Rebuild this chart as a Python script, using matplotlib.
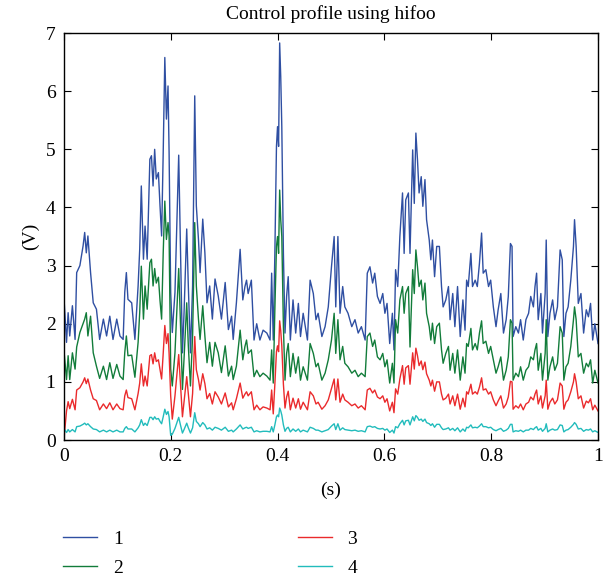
import matplotlib
matplotlib.use("Agg")
import matplotlib.pyplot as plt

plt.rcParams['font.family'] = ['Liberation Serif', 'DejaVu Serif']

# time (s)
t = [0.000, 0.005, 0.008, 0.011, 0.016, 0.021, 0.024, 0.030, 0.036, 0.039,
     0.042, 0.045, 0.050, 0.055, 0.061, 0.067, 0.074, 0.080, 0.086, 0.092,
     0.099, 0.105, 0.111, 0.114, 0.117, 0.120, 0.127, 0.133, 0.139, 0.142,
     0.145, 0.149, 0.152, 0.156, 0.161, 0.164, 0.167, 0.170, 0.173, 0.177,
     0.180, 0.183, 0.186, 0.189, 0.192, 0.195, 0.197, 0.200, 0.203, 0.208,
     0.212, 0.215, 0.218, 0.222, 0.225, 0.230, 0.233, 0.237, 0.241, 0.245,
     0.248, 0.252, 0.255, 0.260, 0.264, 0.268, 0.273, 0.278, 0.283, 0.289,
     0.295, 0.302, 0.308, 0.314, 0.317, 0.323, 0.330,
     0.335, 0.339, 0.342, 0.345, 0.351, 0.356, 0.361, 0.367, 0.373, 0.380,
     0.386, 0.389, 0.392, 0.395, 0.398, 0.400, 0.402, 0.404, 0.406, 0.408,
     0.411, 0.414, 0.417, 0.420, 0.424, 0.429, 0.434, 0.439, 0.443, 0.448,
     0.456, 0.461, 0.467, 0.472, 0.476, 0.483, 0.489, 0.495, 0.501, 0.506,
     0.509, 0.513, 0.517, 0.522, 0.526, 0.532, 0.539, 0.545, 0.551, 0.557,
     0.564, 0.568, 0.573, 0.578, 0.582, 0.587, 0.592, 0.597, 0.601, 0.605,
     0.610, 0.615, 0.618, 0.621, 0.625, 0.629, 0.634, 0.637, 0.640, 0.645,
     0.648, 0.653, 0.656, 0.659, 0.662, 0.665, 0.669, 0.672, 0.676, 0.679,
     0.684, 0.687, 0.690, 0.694, 0.698, 0.703, 0.707, 0.710, 0.715, 0.720,
     0.723, 0.728, 0.732, 0.737, 0.742, 0.747, 0.751, 0.754, 0.757, 0.762,
     0.765, 0.770, 0.774, 0.778, 0.782, 0.785, 0.790, 0.795, 0.799, 0.804,
     0.809, 0.813, 0.818, 0.823, 0.828, 0.832, 0.836, 0.839, 0.841, 0.846,
     0.851, 0.855, 0.860, 0.865, 0.870, 0.874, 0.879, 0.882, 0.885, 0.888,
     0.893, 0.896, 0.901, 0.903, 0.906, 0.910, 0.915, 0.919, 0.924, 0.929,
     0.933, 0.936, 0.940, 0.944, 0.949, 0.954, 0.956, 0.959, 0.963, 0.968,
     0.973, 0.978, 0.982, 0.986, 0.990, 0.994, 1.000]

u1 = [2.48, 1.68, 2.19, 1.79, 2.31, 1.73, 2.88, 3.00, 3.34, 3.57,
      3.22, 3.51, 2.88, 2.36, 2.25, 1.73, 2.08, 1.79, 2.13, 1.73,
      2.08, 1.79, 1.73, 2.54, 2.88, 2.42, 2.36, 1.73, 2.65, 3.28,
      4.37, 3.11, 3.68, 3.11, 4.83, 4.89, 4.37, 5.00, 4.49, 4.60,
      4.03, 3.51, 4.95, 6.58, 5.52, 6.09, 4.95, 2.54, 1.85, 2.54,
      3.91, 4.90, 3.40, 1.50, 2.19, 3.63, 2.65, 1.50, 2.65, 5.92,
      4.03, 3.45, 2.88, 3.80, 3.22, 2.36, 2.65, 2.08, 2.77, 2.48,
      2.08, 2.71, 1.90, 2.13, 1.73, 2.36, 3.28,
      2.41, 2.64, 2.75, 2.52, 2.75, 1.72, 2.00, 1.72, 1.89, 1.84,
      1.72, 2.87, 1.72, 3.21, 5.05, 5.39, 5.05, 6.83, 6.25, 5.39,
      3.21, 1.84, 2.47, 2.81, 1.72, 2.41, 1.84, 2.35, 1.78, 2.18,
      1.72, 2.75, 2.52, 2.07, 2.18, 1.78, 1.95, 2.29, 2.98, 3.50,
      2.29, 3.50, 2.18, 2.64, 2.29, 2.18, 1.95, 2.07, 1.84, 1.95,
      1.72, 2.87, 2.98, 2.70, 2.87, 2.47, 2.35, 2.52, 2.18, 2.35,
      1.66, 2.18, 1.55, 2.93, 2.64, 3.50, 4.25, 3.21, 4.13, 4.25,
      3.21, 4.99, 4.07, 5.28, 4.82, 4.25, 4.53, 4.02, 4.48, 3.79,
      3.44, 3.10, 3.44, 2.81, 3.33, 3.33, 2.64, 2.29, 2.41, 2.64,
      2.07, 2.52, 1.95, 2.64, 1.78, 2.41, 1.89, 2.75, 2.64, 3.21,
      2.64, 2.75, 2.64, 3.04, 3.56, 2.87, 2.93, 2.64, 2.75, 2.29,
      1.95, 2.24, 2.52, 1.84, 2.07, 2.47, 3.38, 3.33, 1.78, 1.95,
      1.84, 2.07, 1.72, 2.07, 2.18, 2.47, 2.29, 2.64, 2.87, 2.07,
      2.52, 1.84, 2.52, 3.44, 1.78, 2.18, 2.41, 2.07, 2.29, 3.27,
      3.10, 1.78, 2.18, 2.29, 2.75, 3.33, 3.79, 3.33, 2.35, 2.52,
      1.84, 2.24, 2.12, 2.35, 1.72, 2.00, 1.66]

u2 = [1.56, 1.04, 1.45, 1.04, 1.50, 1.22, 1.60, 1.85, 2.00, 2.08,
      2.19, 1.79, 2.13, 1.50, 1.27, 1.06, 1.27, 1.04, 1.33, 1.06,
      1.30, 1.10, 1.04, 1.50, 1.79, 1.45, 1.46, 1.08, 1.68, 2.19,
      2.99, 2.08, 2.65, 2.25, 3.05, 3.11, 2.65, 2.95, 2.70, 2.80,
      2.40, 2.08, 3.22, 4.11, 3.45, 3.74, 3.51, 1.22, 0.93, 1.50,
      2.31, 2.95, 2.10, 0.87, 1.40, 2.36, 1.62, 0.93, 1.79, 3.74,
      2.65, 2.08, 1.73, 2.31, 1.79, 1.33, 1.68, 1.27, 1.68, 1.50,
      1.16, 1.62, 1.10, 1.27, 1.04, 1.27, 1.89,
      1.38, 1.61, 1.72, 1.49, 1.55, 1.09, 1.20, 1.09, 1.15, 1.10,
      1.03, 1.55, 0.98, 2.24, 3.33, 3.50, 3.21, 4.30, 3.79, 3.50,
      1.95, 1.03, 1.49, 1.66, 1.09, 1.49, 1.15, 1.43, 1.03, 1.26,
      1.03, 1.66, 1.49, 1.26, 1.32, 1.03, 1.15, 1.38, 1.72, 2.18,
      1.49, 2.07, 1.38, 1.61, 1.32, 1.26, 1.15, 1.20, 1.09, 1.15,
      1.09, 1.78, 1.84, 1.61, 1.72, 1.43, 1.38, 1.49, 1.26, 1.38,
      0.98, 1.32, 0.98, 2.07, 1.84, 2.41, 2.64, 2.18, 2.52, 2.64,
      1.60, 2.93, 2.52, 3.27, 2.98, 2.64, 2.75, 2.41, 2.70, 2.18,
      1.95, 1.72, 2.01, 1.66, 1.95, 2.01, 1.55, 1.32, 1.49, 1.61,
      1.20, 1.49, 1.15, 1.55, 1.03, 1.43, 1.15, 1.66, 1.61, 1.92,
      1.55, 1.66, 1.55, 1.84, 2.05, 1.66, 1.70, 1.49, 1.61, 1.38,
      1.15, 1.26, 1.43, 1.03, 1.20, 1.43, 2.07, 2.01, 1.03, 1.15,
      1.09, 1.26, 1.03, 1.20, 1.26, 1.43, 1.38, 1.55, 1.66, 1.20,
      1.49, 1.03, 1.49, 2.07, 1.03, 1.26, 1.43, 1.20, 1.32, 1.95,
      1.84, 1.03, 1.26, 1.32, 1.61, 2.07, 2.29, 2.07, 1.43, 1.49,
      1.15, 1.32, 1.26, 1.38, 0.98, 1.20, 0.98]

u3 = [0.00, 0.50, 0.66, 0.54, 0.70, 0.52, 0.86, 0.90, 1.00, 1.07,
      0.97, 1.05, 0.86, 0.71, 0.68, 0.52, 0.62, 0.54, 0.64, 0.52,
      0.62, 0.54, 0.52, 0.76, 0.86, 0.73, 0.71, 0.52, 0.80, 0.98,
      1.31, 0.93, 1.10, 0.93, 1.45, 1.47, 1.31, 1.50, 1.35, 1.38,
      1.21, 1.05, 1.49, 1.97, 1.66, 1.83, 1.49, 0.76, 0.36, 0.76,
      1.17, 1.47, 1.02, 0.40, 0.66, 1.09, 0.80, 0.40, 0.80, 1.78,
      1.21, 1.04, 0.86, 1.14, 0.97, 0.71, 0.80, 0.62, 0.83, 0.74,
      0.62, 0.81, 0.57, 0.64, 0.52, 0.71, 0.98,
      0.72, 0.79, 0.83, 0.76, 0.83, 0.52, 0.60, 0.52, 0.57, 0.55,
      0.52, 0.86, 0.45, 0.96, 1.52, 1.62, 1.52, 2.05, 1.88, 1.62,
      0.96, 0.55, 0.74, 0.84, 0.52, 0.72, 0.55, 0.71, 0.53, 0.65,
      0.52, 0.83, 0.76, 0.62, 0.65, 0.53, 0.59, 0.69, 0.89, 1.05,
      0.69, 1.05, 0.65, 0.79, 0.69, 0.65, 0.59, 0.62, 0.55, 0.59,
      0.52, 0.86, 0.89, 0.81, 0.86, 0.74, 0.71, 0.76, 0.65, 0.71,
      0.50, 0.65, 0.47, 0.88, 0.79, 1.05, 1.28, 0.96, 1.24, 1.28,
      0.96, 1.50, 1.22, 1.58, 1.45, 1.28, 1.36, 1.21, 1.34, 1.14,
      1.03, 0.93, 1.03, 0.84, 1.00, 1.00, 0.79, 0.69, 0.72, 0.79,
      0.62, 0.76, 0.59, 0.79, 0.53, 0.72, 0.57, 0.83, 0.79, 0.96,
      0.79, 0.83, 0.79, 0.91, 1.07, 0.86, 0.88, 0.79, 0.83, 0.69,
      0.59, 0.67, 0.76, 0.55, 0.62, 0.74, 1.01, 1.00, 0.53, 0.59,
      0.55, 0.62, 0.52, 0.62, 0.65, 0.74, 0.69, 0.79, 0.86, 0.62,
      0.76, 0.55, 0.76, 1.03, 0.53, 0.65, 0.72, 0.62, 0.69, 0.98,
      0.93, 0.53, 0.65, 0.69, 0.83, 1.00, 1.14, 1.00, 0.71, 0.76,
      0.55, 0.67, 0.64, 0.71, 0.52, 0.60, 0.50]

u4 = [0.20, 0.13, 0.18, 0.14, 0.18, 0.14, 0.23, 0.24, 0.27, 0.29,
      0.26, 0.28, 0.23, 0.19, 0.18, 0.14, 0.17, 0.14, 0.17, 0.14,
      0.17, 0.14, 0.14, 0.20, 0.23, 0.19, 0.19, 0.14, 0.21, 0.26,
      0.35, 0.25, 0.29, 0.25, 0.39, 0.39, 0.35, 0.40, 0.36, 0.37,
      0.32, 0.28, 0.40, 0.53, 0.44, 0.49, 0.40, 0.08, 0.10, 0.20,
      0.31, 0.39, 0.27, 0.12, 0.18, 0.29, 0.21, 0.12, 0.21, 0.47,
      0.32, 0.28, 0.23, 0.30, 0.26, 0.19, 0.21, 0.17, 0.22, 0.20,
      0.17, 0.22, 0.15, 0.17, 0.14, 0.19, 0.26,
      0.19, 0.21, 0.22, 0.20, 0.22, 0.14, 0.16, 0.14, 0.15, 0.15,
      0.14, 0.23, 0.14, 0.26, 0.40, 0.43, 0.40, 0.55, 0.50, 0.43,
      0.26, 0.15, 0.20, 0.22, 0.14, 0.19, 0.15, 0.19, 0.14, 0.17,
      0.14, 0.22, 0.20, 0.17, 0.17, 0.14, 0.16, 0.18, 0.24, 0.28,
      0.18, 0.28, 0.17, 0.21, 0.18, 0.17, 0.16, 0.17, 0.15, 0.16,
      0.14, 0.23, 0.24, 0.22, 0.23, 0.20, 0.19, 0.20, 0.17, 0.19,
      0.13, 0.17, 0.12, 0.23, 0.21, 0.28, 0.34, 0.26, 0.33, 0.34,
      0.26, 0.40, 0.33, 0.42, 0.39, 0.34, 0.36, 0.32, 0.36, 0.30,
      0.28, 0.25, 0.28, 0.22, 0.27, 0.27, 0.21, 0.18, 0.19, 0.21,
      0.17, 0.20, 0.16, 0.21, 0.14, 0.19, 0.15, 0.22, 0.21, 0.26,
      0.21, 0.22, 0.21, 0.24, 0.28, 0.23, 0.23, 0.21, 0.22, 0.18,
      0.16, 0.18, 0.20, 0.15, 0.17, 0.20, 0.27, 0.27, 0.14, 0.16,
      0.15, 0.17, 0.14, 0.17, 0.17, 0.20, 0.18, 0.21, 0.23, 0.17,
      0.20, 0.15, 0.20, 0.28, 0.14, 0.17, 0.19, 0.17, 0.18, 0.26,
      0.25, 0.14, 0.17, 0.18, 0.22, 0.27, 0.30, 0.27, 0.19, 0.20,
      0.15, 0.18, 0.17, 0.19, 0.14, 0.16, 0.13]

labels = ["1", "2", "3", "4"]
colors = ["#2f4fa2", "#127c3a", "#ea2a2c", "#22bcbc"]
xticks = [0, 0.2, 0.4, 0.6, 0.8, 1]
xticklabels = ["0", "0.2", "0.4", "0.6", "0.8", "1"]
yticks = [0, 1, 2, 3, 4, 5, 6, 7]

fig = plt.figure(figsize=(6.14, 5.74), dpi=100)
ax = fig.add_axes([0.104, 0.2334, 0.870, 0.709])

for u, c, lab in zip([u1, u2, u3, u4], colors, labels):
    ax.plot(t, u, color=c, lw=1.0, label=lab)

ax.set_xlim(0, 1)
ax.set_ylim(0, 7)
ax.set_xticks(xticks)
ax.set_xticklabels(xticklabels)
ax.set_yticks(yticks)
ax.tick_params(direction="in", top=True, right=True, length=5, width=0.8,
               labelsize=14, pad=6)
for s in ax.spines.values():
    s.set_linewidth(1.0)

ax.set_title("Control profile using hifoo", fontsize=14, pad=10)
ax.set_xlabel("(s)", fontsize=14, labelpad=12)
ax.set_ylabel("(V)", fontsize=14, labelpad=5)

fig.legend(loc="upper left", bbox_to_anchor=(0.103, 0.076), ncol=2,
           frameon=False, fontsize=14, handlelength=1.75, handletextpad=0.8,
           columnspacing=9.0, labelspacing=0.6, borderpad=0, borderaxespad=0)

fig.savefig("out.png", dpi=100)
